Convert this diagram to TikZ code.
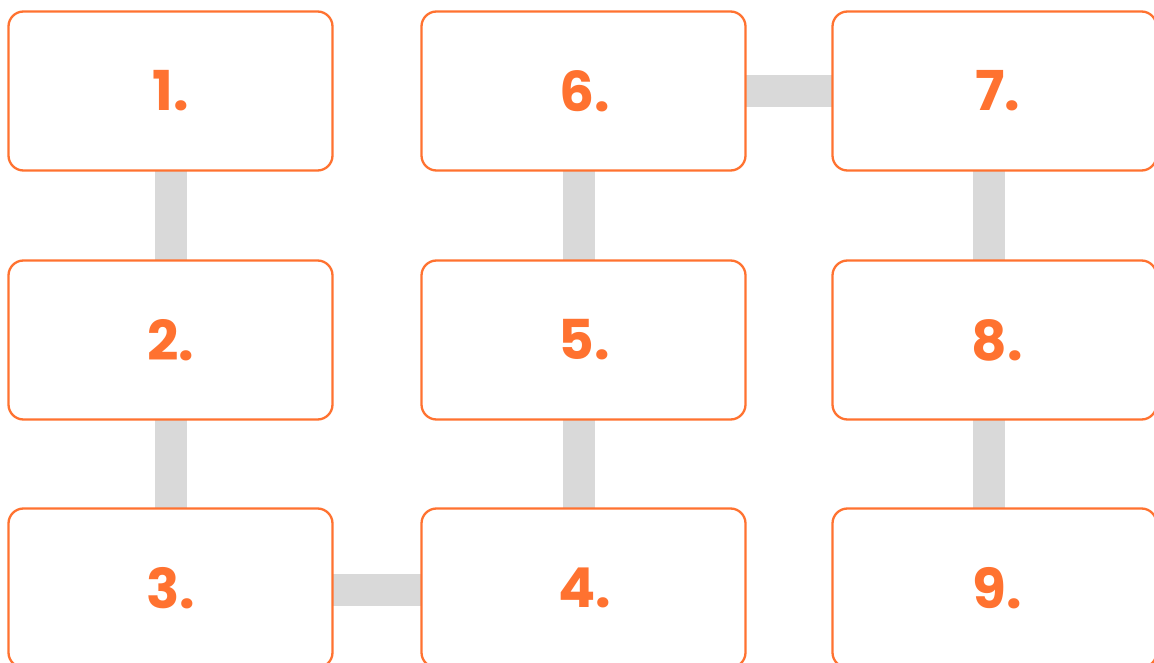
\documentclass[tikz,border=0pt]{standalone}
\usepackage{fontspec}
\setmainfont{Poppins}
\usetikzlibrary{backgrounds}
\definecolor{orng}{HTML}{FF7230}
\definecolor{conngray}{HTML}{D9D9D9}
\tikzset{
  stepbox/.style={draw=orng, line width=2.3pt, fill=white, rounded corners=15pt,
    minimum width=324pt, minimum height=159pt, inner sep=0pt, outer sep=0pt,
    text=orng, font=\fontsize{55}{55}\selectfont\bfseries},
  conn/.style={draw=conngray, line width=32pt}
}
\begin{document}
\begin{tikzpicture}[x=1pt,y=1pt]
\useasboundingbox (0,0) rectangle (1154,662);
\node[stepbox] (b1) at (170.5,571) {1.};
\node[stepbox] (b2) at (170.5,322) {2.};
\node[stepbox] (b3) at (170.5,74) {3.};
\node[stepbox] (b4) at (583.5,74) {\kern2pt4.};
\node[stepbox] (b5) at (583.5,322) {\kern2pt5.};
\node[stepbox] (b6) at (583.5,571) {\kern2pt6.};
\node[stepbox] (b7) at (994.5,571) {\kern6pt7.};
\node[stepbox] (b8) at (994.5,322) {\kern6pt8.};
\node[stepbox] (b9) at (994.5,74) {\kern6pt9.};
\begin{scope}[on background layer]
\path[conn] (b1.center) -- (b2.center);
\path[conn] (b2.center) -- (b3.center);
\path[conn] ([yshift=-2pt]b3.center) -- ([yshift=-2pt]b4.center);
\path[conn] ([xshift=-5pt]b4.center) -- ([xshift=-5pt]b5.center);
\path[conn] ([xshift=-5pt]b5.center) -- ([xshift=-5pt]b6.center);
\path[conn] (b6.center) -- (b7.center);
\path[conn] ([xshift=-5.5pt]b7.center) -- ([xshift=-5.5pt]b8.center);
\path[conn] ([xshift=-5.5pt]b8.center) -- ([xshift=-5.5pt]b9.center);
\end{scope}
\end{tikzpicture}
\end{document}
